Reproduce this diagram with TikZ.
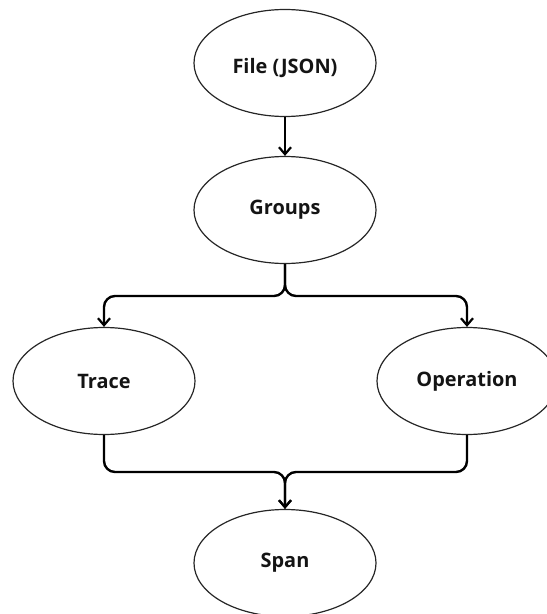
\documentclass[tikz,border=0pt]{standalone}
\usepackage{fontspec}
\setmainfont{Open Sans}
\usetikzlibrary{shapes.geometric,arrows.meta}

\begin{document}
\begin{tikzpicture}[x=1bp,y=-1bp,
  entity/.style={ellipse,draw=black!85,line width=1.2bp,
    minimum width=182bp,minimum height=107bp,inner sep=0pt,
    font=\fontsize{20}{24}\selectfont\bfseries,text=black!92},
  link/.style={line width=2.4bp,rounded corners=11bp,
    -{Straight Barb[length=7bp,width=12bp,line width=2.2bp]}}]
  \useasboundingbox (0,0) rectangle (547,614);
  \begin{scope}
    \clip (0,0) rectangle (547,614);
    % entities
    \node[entity,text height=21bp,text depth=0bp] (file) at (285,63) {File (JSON)};
    \node[entity] (groups)    at (285,210) {Groups};
    \node[entity] (trace)     at (104,381) {Trace};
    \node[entity,minimum width=180bp] (operation) at (467,381) {\raisebox{3bp}{Operation}};
    \node[entity] (span)      at (285,563) {Span};
  \end{scope}
  % split and merge points of the branches
  \coordinate (split) at (285,296);
  \coordinate (merge) at (285,472);
  % connectors
  \draw[link] (file) -- (groups);
  \draw[link] (groups.south) -- (split) -| (trace.north);
  \draw[link] (groups.south) -- (split) -| (operation.north);
  \draw[link] (trace.south) |- (merge) -- (span.north);
  \draw[link] (operation.south) |- (merge) -- (span.north);
\end{tikzpicture}
\end{document}
